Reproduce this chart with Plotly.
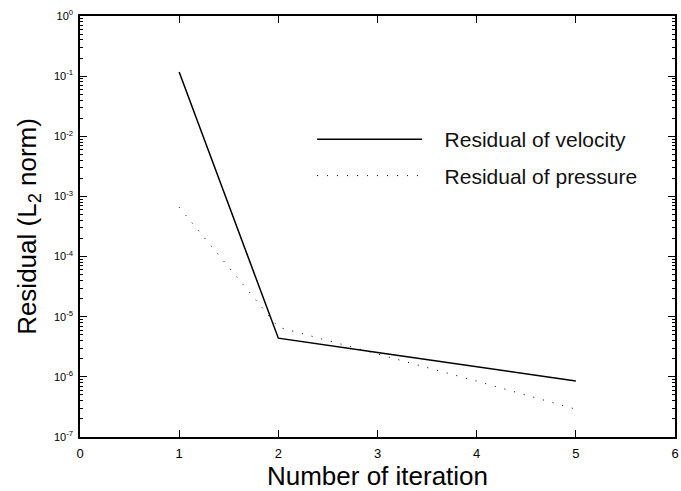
import plotly.graph_objects as go

# ---- data ----
iterations = [1, 2, 3, 4, 5]
velocity_residual = [0.117, 4.4e-6, 2.54e-6, 1.47e-6, 8.5e-7]
pressure_residual = [6.6e-4, 6.7e-6, 2.4e-6, 8.5e-7, 2.9e-7]

x_ticks = [0, 1, 2, 3, 4, 5, 6]
y_exponents = [0, -1, -2, -3, -4, -5, -6, -7]
y_tick_vals = [10.0 ** e for e in y_exponents]
y_tick_text = ["10<sup>%d</sup>" % e for e in y_exponents]

minor_vals = [m * 10.0 ** e for e in range(-7, 0) for m in range(2, 10)]

NB = "\u00a0"

fig = go.Figure()
fig.add_trace(go.Scatter(
    x=iterations, y=velocity_residual, mode="lines",
    name=NB * 3 + "Residual of velocity",
    line=dict(color="black", width=1.5),
    legendgroup="v",
))
fig.add_trace(go.Scatter(
    x=iterations, y=pressure_residual, mode="lines",
    name=NB * 3 + "Residual of pressure",
    line=dict(color="black", width=1, dash="1px,9px"),
    legendgroup="p",
))

font_family = "Liberation Sans, Arial, sans-serif"

fig.update_layout(
    width=681, height=491,
    margin=dict(l=80, r=2, t=16, b=54),
    paper_bgcolor="white", plot_bgcolor="white",
    font=dict(family=font_family, color="black"),
    showlegend=True,
    legend=dict(
        x=0.39, y=0.755, xanchor="left", yanchor="top",
        bgcolor="rgba(0,0,0,0)", borderwidth=0,
        font=dict(size=21, family=font_family, color="#111"),
        itemwidth=105, traceorder="grouped", tracegroupgap=6,
    ),
    xaxis=dict(
        range=[0, 6], tickvals=x_ticks,
        ticks="inside", ticklen=7, tickwidth=1, tickcolor="black",
        showline=True, linecolor="black", linewidth=1.5, mirror="allticks",
        showgrid=False, zeroline=False, ticklabelstandoff=4,
        tickfont=dict(size=13, family=font_family, color="black"),
        title=dict(text="Number of iteration", font=dict(size=26, family=font_family), standoff=4),
    ),
    yaxis=dict(
        type="log", range=[-7, 0],
        tickmode="array", tickvals=y_tick_vals, ticktext=y_tick_text,
        ticks="inside", ticklen=7, tickwidth=1, tickcolor="black",
        minor=dict(tickmode="array", tickvals=minor_vals, ticks="inside",
                   ticklen=3, tickwidth=1, tickcolor="black", showgrid=False),
        showline=True, linecolor="black", linewidth=1.5, mirror="allticks",
        showgrid=False, zeroline=False, ticklabelstandoff=3,
        tickfont=dict(size=11, family=font_family, color="black"),
        title=dict(text="Residual (L<sub>2</sub> norm)", font=dict(size=26, family=font_family), standoff=10),
    ),
)

fig.write_html("out.html")
